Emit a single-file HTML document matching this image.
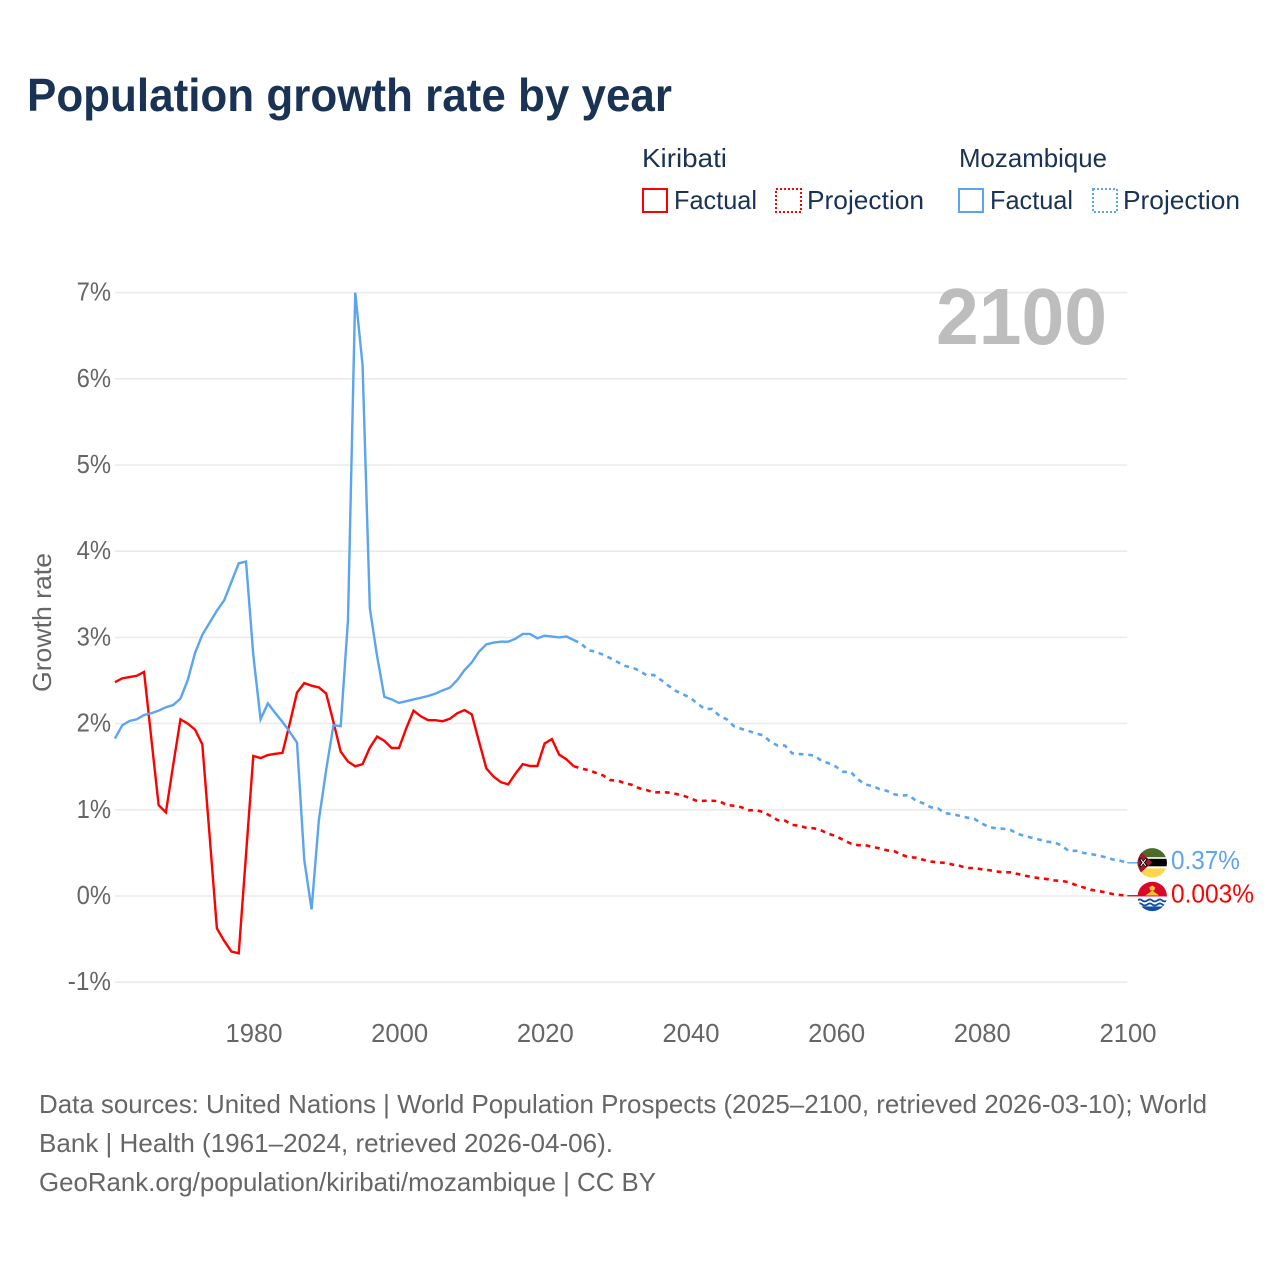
<!DOCTYPE html>
<html lang="en">
<head>
<meta charset="utf-8">
<title>Population growth rate by year</title>
<style>
html,body{margin:0;padding:0;background:#fff;}
svg{display:block;font-family:"Liberation Sans",sans-serif;}
.dark{fill:#1a3355;}
.grey{fill:#666;}
</style>
</head>
<body>
<svg id="chart" xmlns="http://www.w3.org/2000/svg" width="1280" height="1280" viewBox="0 0 1280 1280">
  <rect width="1280" height="1280" fill="#fff"/>
  <text class="dark" x="27" y="111" font-size="46" font-weight="bold" textLength="645" lengthAdjust="spacingAndGlyphs">Population growth rate by year</text>

  <g font-size="26" class="dark">
    <text x="642" y="167" textLength="85" lengthAdjust="spacingAndGlyphs">Kiribati</text>
    <text x="959" y="167" textLength="148" lengthAdjust="spacingAndGlyphs">Mozambique</text>
    <rect x="643" y="189" width="24" height="23" fill="none" stroke="#ff0000" stroke-width="2"/>
    <text x="674" y="209" textLength="83" lengthAdjust="spacingAndGlyphs">Factual</text>
    <rect x="776" y="189" width="25" height="23" fill="none" stroke="#ff0000" stroke-width="2" stroke-dasharray="2 2"/>
    <text x="807" y="209" textLength="117" lengthAdjust="spacingAndGlyphs">Projection</text>
    <rect x="959" y="189" width="24" height="23" fill="none" stroke="#5ba4ef" stroke-width="2"/>
    <text x="990" y="209" textLength="83" lengthAdjust="spacingAndGlyphs">Factual</text>
    <rect x="1093" y="189" width="24" height="23" fill="none" stroke="#5ba4ef" stroke-width="2" stroke-dasharray="2 2"/>
    <text x="1123" y="209" textLength="117" lengthAdjust="spacingAndGlyphs">Projection</text>
  </g>

  <g id="grid"></g>
  <g id="yticks" font-size="26" class="grey"></g>
  <g id="xticks" font-size="26" class="grey"></g>
  <text class="grey" font-size="26" transform="translate(51,692) rotate(-90)" textLength="139" lengthAdjust="spacingAndGlyphs">Growth rate</text>
  <text x="936" y="344" font-size="80" font-weight="bold" fill="#bdbdbd" textLength="171" lengthAdjust="spacingAndGlyphs">2100</text>
  <g id="series"></g>

  <defs>
    <clipPath id="flag-clip"><circle cx="0" cy="0" r="14.7"/></clipPath>
  </defs>
  <g id="flag-mozambique">
    <g clip-path="url(#flag-clip)">
      <rect x="-15" y="-15" width="30" height="9.5" fill="#4a6b2a"/>
      <rect x="-15" y="-5.5" width="30" height="11" fill="#fff"/>
      <rect x="-15" y="-4" width="30" height="7.5" fill="#000"/>
      <rect x="-15" y="5.5" width="30" height="10" fill="#fdd64f"/>
      <polygon points="-15,-14 0,-0.5 -15,13" fill="#a5162c"/>
      <path d="M-12.5,-4 L-5.5,3.5 M-5.5,-4 L-12.5,3.5" stroke="#000" stroke-width="2.6"/>
      <path d="M-11.5,-3.5 L-6.5,3 M-6.5,-3.5 L-11.5,3" stroke="#fff" stroke-width="1"/>
    </g>
  </g>
  <g id="flag-kiribati">
    <g clip-path="url(#flag-clip)">
      <rect x="-15" y="-15" width="30" height="16" fill="#d9082a"/>
      <rect x="-15" y="0" width="30" height="15" fill="#fff"/>
      <path d="M-7,-1 L0,-6 L7,-1 Z" fill="#fbc531"/>
      <path d="M-3,-9 L0,-11 L3,-9 L2,-6 L-2,-6 Z" fill="#fbc531"/>
      <path d="M-15,4 q3,-2 5,0 t5,0 t5,0 t5,0 t5,0 t5,0" fill="none" stroke="#0f4fa8" stroke-width="1.8"/>
      <path d="M-15,8 q3,-2 5,0 t5,0 t5,0 t5,0 t5,0 t5,0" fill="none" stroke="#0f4fa8" stroke-width="1.8"/>
      <rect x="-15" y="10" width="30" height="6" fill="#0f4fa8"/>
    </g>
  </g>
  <g id="end-labels" font-size="26"></g>

  <g font-size="26" class="grey">
    <text x="39" y="1113" textLength="1168" lengthAdjust="spacingAndGlyphs">Data sources: United Nations | World Population Prospects (2025–2100, retrieved 2026-03-10); World</text>
    <text x="39" y="1152" textLength="574" lengthAdjust="spacingAndGlyphs">Bank | Health (1961–2024, retrieved 2026-04-06).</text>
    <text x="39" y="1191" textLength="617" lengthAdjust="spacingAndGlyphs">GeoRank.org/population/kiribati/mozambique | CC BY</text>
  </g>
</svg>
<script>
const years = [1961,1962,1963,1964,1965,1966,1967,1968,1969,1970,1971,1972,1973,1974,1975,1976,1977,1978,1979,1980,
1981,1982,1983,1984,1985,1986,1987,1988,1989,1990,1991,1992,1993,1994,1995,1996,1997,1998,1999,2000,
2001,2002,2003,2004,2005,2006,2007,2008,2009,2010,2011,2012,2013,2014,2015,2016,2017,2018,2019,2020,
2021,2022,2023,2024,2025,2026,2027,2028,2029,2030,2031,2032,2033,2034,2035,2036,2037,2038,2039,2040,
2041,2042,2043,2044,2045,2046,2047,2048,2049,2050,2051,2052,2053,2054,2055,2056,2057,2058,2059,2060,
2061,2062,2063,2064,2065,2066,2067,2068,2069,2070,2071,2072,2073,2074,2075,2076,2077,2078,2079,2080,
2081,2082,2083,2084,2085,2086,2087,2088,2089,2090,2091,2092,2093,2094,2095,2096,2097,2098,2099,2100];
const lastFactualYear = 2024;
const kiribatiValues = [2.48,2.525,2.54,2.555,2.6,1.825,1.055,0.97,1.52,2.05,2.0,1.93,1.76,0.7,-0.375,-0.52,-0.645,-0.665,0.48,1.625,
1.6,1.635,1.65,1.66,2.0,2.36,2.47,2.44,2.42,2.35,2.02,1.675,1.56,1.505,1.53,1.72,1.85,1.8,1.717,1.717,
1.945,2.15,2.085,2.04,2.04,2.027,2.057,2.12,2.157,2.107,1.79,1.48,1.385,1.32,1.295,1.42,1.53,1.508,1.508,1.77,
1.82,1.64,1.585,1.505,1.48,1.46,1.43,1.4,1.345,1.34,1.31,1.29,1.25,1.23,1.2,1.205,1.2,1.185,1.165,1.135,
1.1,1.105,1.105,1.1,1.055,1.047,1.03,0.995,0.995,0.975,0.93,0.88,0.875,0.825,0.815,0.79,0.785,0.76,0.72,0.695,
0.65,0.61,0.59,0.59,0.57,0.553,0.53,0.52,0.48,0.45,0.445,0.42,0.4,0.39,0.385,0.365,0.35,0.325,0.325,0.31,
0.3,0.285,0.275,0.275,0.255,0.235,0.22,0.205,0.197,0.18,0.175,0.16,0.125,0.1,0.073,0.058,0.043,0.023,0.012,0.003];
const mozambiqueValues = [1.825,1.98,2.03,2.05,2.1,2.12,2.15,2.19,2.215,2.29,2.505,2.82,3.03,3.17,3.31,3.43,3.645,3.86,3.88,2.795,
2.05,2.235,2.125,2.02,1.905,1.78,0.417,-0.155,0.88,1.46,1.98,1.97,3.2,7.0,6.16,3.34,2.78,2.31,2.28,2.24,
2.26,2.28,2.3,2.32,2.347,2.386,2.417,2.505,2.62,2.71,2.835,2.92,2.94,2.95,2.95,2.985,3.04,3.04,2.99,3.02,
3.01,3.0,3.01,2.97,2.93,2.85,2.835,2.8,2.76,2.715,2.67,2.65,2.615,2.56,2.565,2.505,2.44,2.38,2.34,2.3,
2.23,2.17,2.17,2.09,2.05,1.97,1.94,1.915,1.885,1.865,1.79,1.745,1.745,1.655,1.647,1.64,1.63,1.57,1.54,1.5,
1.44,1.44,1.355,1.295,1.275,1.24,1.22,1.18,1.165,1.17,1.105,1.075,1.03,1.017,0.96,0.95,0.93,0.91,0.895,0.843,
0.8,0.785,0.78,0.765,0.72,0.695,0.673,0.653,0.63,0.623,0.583,0.52,0.525,0.5,0.487,0.47,0.45,0.425,0.41,0.385];
const yTickValues = [-1,0,1,2,3,4,5,6,7];
const yTickLabels = ["-1%","0%","1%","2%","3%","4%","5%","6%","7%"];
const xTickYears = [1980,2000,2020,2040,2060,2080,2100];
const xTickLabels = ["1980","2000","2020","2040","2060","2080","2100"];
const endLabelKiribati = "0.003%";
const endLabelMozambique = "0.37%";

const RED = "#ff0000";
const BLUE = "#5ba4ef";
const NS = "http://www.w3.org/2000/svg";
function xScale(year){ return 253.3 + (year - 1980) * 7.283; }
function yScale(value){ return 896 - value * 86.2; }
function make(tag, parent){
  const el = document.createElementNS(NS, tag);
  parent.appendChild(el);
  return el;
}

const gridGroup = document.getElementById("grid");
const yTickGroup = document.getElementById("yticks");
yTickValues.forEach(function(value, i){
  const line = make("line", gridGroup);
  
  
  line.setAttribute("x1", xScale(1961));
  line.setAttribute("x2", xScale(2100));
  line.setAttribute("y1", yScale(value));
  line.setAttribute("y2", yScale(value));
  line.setAttribute("stroke", "#ebebeb");
  line.setAttribute("stroke-width", "1.6");
  const label = yTickLabels[i];
  const t = make("text", yTickGroup);
  
  
  t.textContent = label;
  const w = (label.length - 1) * 14.4 - (label[0] === "-" ? 5.6 : 0) + 20;
  t.setAttribute("x", 111 - w);
  t.setAttribute("y", yScale(value) + 8);
  t.setAttribute("textLength", w);
  t.setAttribute("lengthAdjust", "spacingAndGlyphs");
});

const xTickGroup = document.getElementById("xticks");
xTickYears.forEach(function(year, i){
  const t = make("text", xTickGroup);
  
  
  t.textContent = xTickLabels[i];
  t.setAttribute("x", xScale(year) + 0.7);
  t.setAttribute("y", 1042);
  t.setAttribute("text-anchor", "middle");
  t.setAttribute("textLength", 57);
  t.setAttribute("lengthAdjust", "spacingAndGlyphs");
});

function pathFor(values, from, to){
  const pts = [];
  years.forEach(function(year, i){
    if (year >= from && year <= to) {
      pts.push(xScale(year).toFixed(2) + "," + yScale(values[i]).toFixed(2));
    }
  });
  return "M" + pts.join("L");
}
const seriesGroup = document.getElementById("series");

const kiribatiFactual = make("path", seriesGroup);


kiribatiFactual.setAttribute("d", pathFor(kiribatiValues, 1961, lastFactualYear));
kiribatiFactual.setAttribute("fill", "none");
kiribatiFactual.setAttribute("stroke", RED);
kiribatiFactual.setAttribute("stroke-width", "2.4");

const kiribatiProjection = make("path", seriesGroup);


kiribatiProjection.setAttribute("d", pathFor(kiribatiValues, lastFactualYear, 2100));
kiribatiProjection.setAttribute("fill", "none");
kiribatiProjection.setAttribute("stroke", RED);
kiribatiProjection.setAttribute("stroke-width", "2.6");
kiribatiProjection.setAttribute("stroke-dasharray", "4.8 4.8");

const mozambiqueFactual = make("path", seriesGroup);


mozambiqueFactual.setAttribute("d", pathFor(mozambiqueValues, 1961, lastFactualYear));
mozambiqueFactual.setAttribute("fill", "none");
mozambiqueFactual.setAttribute("stroke", BLUE);
mozambiqueFactual.setAttribute("stroke-width", "2.4");

const mozambiqueProjection = make("path", seriesGroup);


mozambiqueProjection.setAttribute("d", pathFor(mozambiqueValues, lastFactualYear, 2100));
mozambiqueProjection.setAttribute("fill", "none");
mozambiqueProjection.setAttribute("stroke", BLUE);
mozambiqueProjection.setAttribute("stroke-width", "2.6");
mozambiqueProjection.setAttribute("stroke-dasharray", "4.8 4.8");

const lastIndex = years.length - 1;
const endX = xScale(years[lastIndex]);
const kiribatiEndY = yScale(kiribatiValues[lastIndex]);
const mozambiqueEndY = yScale(mozambiqueValues[lastIndex]);

const kiribatiConnector = make("line", seriesGroup);


kiribatiConnector.setAttribute("x1", endX);
kiribatiConnector.setAttribute("x2", endX + 11);
kiribatiConnector.setAttribute("y1", kiribatiEndY);
kiribatiConnector.setAttribute("y2", kiribatiEndY);
kiribatiConnector.setAttribute("stroke", RED);
kiribatiConnector.setAttribute("stroke-width", "1.4");

const mozambiqueConnector = make("line", seriesGroup);


mozambiqueConnector.setAttribute("x1", endX);
mozambiqueConnector.setAttribute("x2", endX + 11);
mozambiqueConnector.setAttribute("y1", mozambiqueEndY);
mozambiqueConnector.setAttribute("y2", mozambiqueEndY);
mozambiqueConnector.setAttribute("stroke", BLUE);
mozambiqueConnector.setAttribute("stroke-width", "1.4");

document.getElementById("flag-mozambique").setAttribute("transform", "translate(" + (endX + 25) + "," + mozambiqueEndY + ")");
document.getElementById("flag-kiribati").setAttribute("transform", "translate(" + (endX + 25) + "," + (kiribatiEndY + 0.7) + ")");

const endGroup = document.getElementById("end-labels");
const mozambiqueLabel = make("text", endGroup);


mozambiqueLabel.textContent = endLabelMozambique;
mozambiqueLabel.setAttribute("x", endX + 43.7);
mozambiqueLabel.setAttribute("y", mozambiqueEndY + 6);
mozambiqueLabel.setAttribute("fill", BLUE);
mozambiqueLabel.setAttribute("textLength", 69);
mozambiqueLabel.setAttribute("lengthAdjust", "spacingAndGlyphs");

const kiribatiLabel = make("text", endGroup);


kiribatiLabel.textContent = endLabelKiribati;
kiribatiLabel.setAttribute("x", endX + 43.7);
kiribatiLabel.setAttribute("y", kiribatiEndY + 7);
kiribatiLabel.setAttribute("fill", RED);
kiribatiLabel.setAttribute("textLength", 83);
kiribatiLabel.setAttribute("lengthAdjust", "spacingAndGlyphs");
</script>
</body>
</html>
